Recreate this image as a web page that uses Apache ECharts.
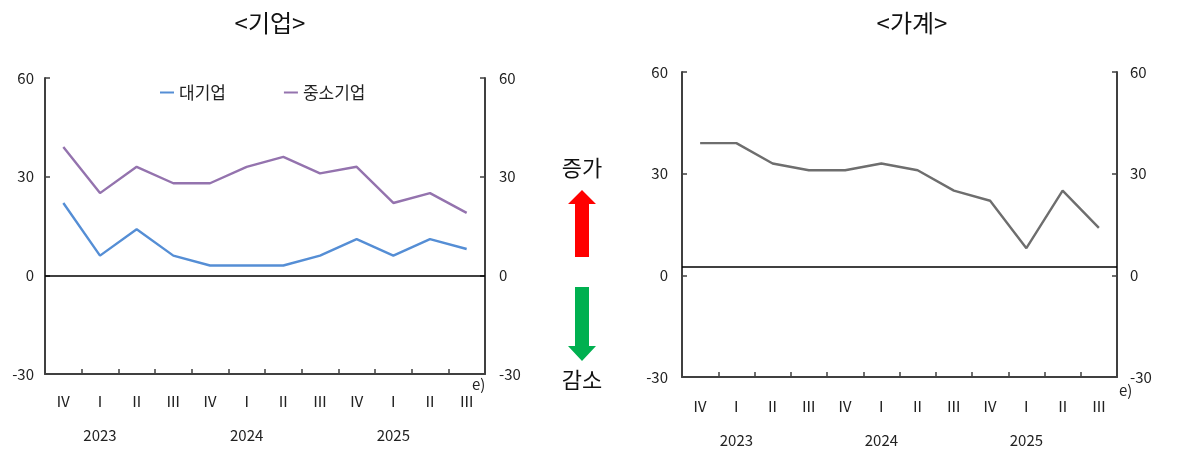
<!DOCTYPE html>
<html>
<head>
<meta charset="utf-8">
<script src="https://cdn.jsdelivr.net/npm/echarts@6/dist/echarts.min.js"></script>
<style>
html,body{margin:0;padding:0;background:#fff;}
#chart{width:1177px;height:449px;}
</style>
</head>
<body>
<div id="chart"></div>
<script>
const quarters = ['Ⅳ','Ⅰ','Ⅱ','Ⅲ','Ⅳ','Ⅰ','Ⅱ','Ⅲ','Ⅳ','Ⅰ','Ⅱ','Ⅲ'];
const yearLabels = {1:'2023', 5:'2024', 9:'2025'};
const yTicks = {min:-30, max:60, interval:30};
const largeFirms = [22, 6, 14, 6, 3, 3, 3, 6, 11, 6, 11, 8];
const smeFirms = [39, 25, 33, 28, 28, 33, 36, 31, 33, 22, 25, 19];
const households = [39, 39, 33, 31, 31, 33, 31, 25, 22, 8, 25, 14];
const householdBaseline = 2.6;

const FONT = '"Noto Sans CJK KR", "Noto Sans", sans-serif';
const axisColor = '#404040';

function xAxisCfg(gridIndex, margin){
  return {
    type:'category', gridIndex, data: quarters, boundaryGap:true,
    position:'bottom',
    axisLine:{onZero:false, lineStyle:{color:axisColor, width:2}},
    axisTick:{show:true, inside:true, length:5, alignWithLabel:false, lineStyle:{color:axisColor, width:1.5}},
    axisLabel:{
      interval:0, margin, color:'#222', fontFamily:FONT, fontSize:15, lineHeight:17,
      formatter:(v, i)=> yearLabels[i] ? v + '\n\n' + yearLabels[i] : v
    },
    splitLine:{show:false}
  };
}
function yAxisCfg(gridIndex, pos, margin){
  return {
    type:'value', gridIndex, position:pos, min:yTicks.min, max:yTicks.max, interval:yTicks.interval,
    axisLine:{show:true, lineStyle:{color:axisColor, width:2}},
    axisTick:{show:true, inside:true, length:5, lineStyle:{color:axisColor, width:1.5}},
    axisLabel:{color:'#222', fontFamily:FONT, fontSize:15, margin},
    splitLine:{show:false}
  };
}

const chart = echarts.init(document.getElementById('chart'));
chart.setOption({
  animation:false,
  backgroundColor:'#fff',
  textStyle:{fontFamily:FONT},
  title:[
    {text:'<기업>', left:265, top:6, textAlign:'center', textStyle:{fontFamily:FONT, fontSize:24, fontWeight:'normal', color:'#111'}},
    {text:'<가계>', left:907, top:6, textAlign:'center', textStyle:{fontFamily:FONT, fontSize:24, fontWeight:'normal', color:'#111'}}
  ],
  legend:{
    left:155, top:79, itemGap:58, itemWidth:14, itemHeight:2, icon:'rect',
    data:['대기업','중소기업'],
    textStyle:{fontFamily:FONT, fontSize:17, color:'#222'}
  },
  grid:[
    {left:45, right:1177-485, top:78, height:296},
    {left:682, right:1177-1117, top:72, height:307}
  ],
  xAxis:[ xAxisCfg(0, 19), xAxisCfg(1, 21) ],
  yAxis:[
    yAxisCfg(0,'left',11), yAxisCfg(0,'right',14),
    yAxisCfg(1,'left',14), yAxisCfg(1,'right',13)
  ],
  series:[
    {name:'대기업', type:'line', xAxisIndex:0, yAxisIndex:0, data:largeFirms, showSymbol:false,
      lineStyle:{color:'#558ED5', width:2.4}, itemStyle:{color:'#558ED5'},
      markLine:{silent:true, symbol:['none','none'], label:{show:false},
        lineStyle:{color:'#000', width:1.5, type:'solid'}, data:[{yAxis:0}]}},
    {name:'중소기업', type:'line', xAxisIndex:0, yAxisIndex:0, data:smeFirms, showSymbol:false,
      lineStyle:{color:'#9473AE', width:2.4}, itemStyle:{color:'#9473AE'}},
    {name:'가계', type:'line', xAxisIndex:1, yAxisIndex:2, data:households, showSymbol:false,
      lineStyle:{color:'#6E6E6E', width:2.4}, itemStyle:{color:'#6E6E6E'},
      markLine:{silent:true, symbol:['none','none'], label:{show:false},
        lineStyle:{color:'#000', width:1.5, type:'solid'}, data:[{yAxis:householdBaseline}]}}
  ],
  graphic:[
    {type:'text', left:472, top:377, style:{text:'e)', font:'15px '+FONT, fill:'#222'}},
    {type:'text', left:1119, top:383, style:{text:'e)', font:'15px '+FONT, fill:'#222'}},
    {type:'text', style:{x:582, y:168, text:'증가', font:'22px '+FONT, fill:'#111', textAlign:'center', textVerticalAlign:'middle'}},
    {type:'text', style:{x:582, y:380, text:'감소', font:'22px '+FONT, fill:'#111', textAlign:'center', textVerticalAlign:'middle'}},
    {type:'polygon', shape:{points:[[582,190],[596,204],[589,204],[589,257],[575,257],[575,204],[568,204]]}, style:{fill:'#FF0000'}},
    {type:'polygon', shape:{points:[[575,287],[589,287],[589,346],[596,346],[582,361],[568,346],[575,346]]}, style:{fill:'#00B050'}}
  ]
});
</script>
</body>
</html>
